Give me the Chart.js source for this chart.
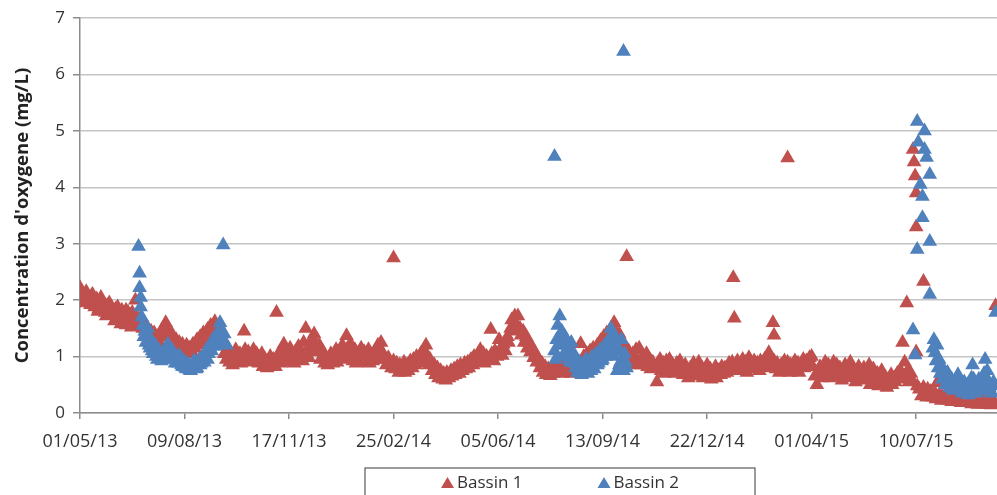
<!DOCTYPE html>
<html>
<head>
<meta charset="utf-8">
<title>Concentration d'oxygène</title>
<script src="https://cdn.jsdelivr.net/npm/chart.js@4.4.0/dist/chart.umd.min.js"></script>
<style>
    html, body { margin: 0; padding: 0; background: #fff; overflow: hidden; }
    #wrap { width: 1120px; height: 495px; }
</style>
</head>
<body>
<div id="wrap"><canvas id="oxyChart" width="1120" height="495"></canvas></div>
<script>
// day offsets are counted from 01/05/2013
const xTickLabels = ['01/05/13', '09/08/13', '17/11/13', '25/02/14', '05/06/14', '13/09/14', '22/12/14', '01/04/15', '10/07/15'];
const yTicks = [0, 1, 2, 3, 4, 5, 6, 7];

// Bassin 1: [day, mg/L]
const bassin1 = [
    [0, 2.22], [1, 1.98], [2, 2.1], [4, 2.05], [5, 1.95], [6, 2.15], [8, 2.0], [10, 1.92], [11, 2.08], [12, 2.1],
    [13, 1.95], [14, 1.88], [16, 2.02], [17, 1.8], [18, 1.85], [19, 1.95], [20, 2.05], [21, 1.82], [22, 1.92], [24, 1.78],
    [25, 1.72], [26, 1.9], [27, 1.8], [28, 1.95], [29, 1.75], [30, 1.88], [32, 1.74], [33, 1.63], [34, 1.84], [35, 1.72],
    [36, 1.88], [37, 1.8], [38, 1.7], [39, 1.58], [40, 1.82], [42, 1.68], [43, 1.76], [44, 1.82], [44, 1.56], [45, 1.66],
    [46, 1.78], [48, 1.64], [49, 1.52], [50, 1.74], [50, 1.78], [51, 1.62], [53, 2.0], [53, 1.72], [54, 1.6],
    [56, 1.68], [57, 1.55], [59, 1.62], [60, 1.5], [62, 1.58], [63, 1.45], [65, 1.5], [66, 1.38], [68, 1.45], [70, 1.35],
    [71, 1.42], [73, 1.3], [75, 1.38], [76, 1.25], [78, 1.35], [79, 1.45], [81, 1.55], [82, 1.6], [84, 1.45],
    [85, 1.35], [87, 1.28], [88, 1.4], [90, 1.22], [92, 1.3], [93, 1.15], [95, 1.25], [97, 1.12], [98, 1.22], [100, 1.1],
    [102, 1.2], [103, 1.05], [105, 1.15], [107, 1.08], [108, 1.22], [110, 1.15],
    [112, 1.3], [113, 1.2], [115, 1.35], [117, 1.25], [118, 1.42], [120, 1.32], [122, 1.48], [123, 1.38], [125, 1.55], [127, 1.45],
    [129, 1.62], [130, 1.5], [132, 1.4], [133, 1.55], [135, 1.3], [137, 1.2], [138, 1.05], [140, 0.95],
    [141, 1.12], [143, 0.9], [145, 1.05], [146, 0.85], [148, 1.0], [149, 1.12], [151, 0.92], [153, 1.05], [154, 0.88], [156, 1.0],
    [157, 1.45], [158, 1.12], [159, 0.95], [161, 1.08], [163, 0.9], [164, 1.02], [166, 1.12], [167, 0.92], [169, 1.05], [171, 0.88],
    [172, 0.98], [174, 1.05], [175, 0.82], [177, 0.95], [179, 0.8], [180, 0.92], [182, 1.0], [184, 0.85], [185, 0.95], [187, 0.82],
    [188, 1.78], [189, 0.95], [190, 1.05],
    [192, 0.88], [193, 1.1], [195, 1.22], [196, 0.95], [198, 1.08], [200, 0.9], [201, 1.15], [203, 1.0], [205, 0.88], [206, 1.08],
    [208, 0.95], [209, 1.18], [211, 1.05], [213, 0.92], [214, 1.25], [216, 1.5], [217, 1.1], [219, 0.98], [221, 1.28], [222, 1.15],
    [224, 1.4], [225, 1.25], [227, 1.08], [229, 1.2], [230, 0.95], [232, 1.1], [234, 0.88], [235, 1.0], [237, 0.85], [238, 0.95],
    [240, 1.05], [242, 0.88], [243, 1.0], [245, 1.12], [246, 0.9], [248, 1.08], [250, 0.95], [251, 1.2], [253, 1.05], [255, 1.37],
    [256, 1.15], [258, 0.98], [259, 1.22], [261, 0.92], [263, 1.12], [264, 0.88], [266, 1.05], [268, 0.95], [269, 1.15], [271, 0.9],
    [272, 1.08], [274, 0.95], [276, 1.12], [277, 0.88], [279, 1.02], [280, 0.92], [282, 1.08], [284, 0.95], [285, 1.2], [287, 1.1],
    [288, 1.25], [290, 1.05], [292, 0.95], [293, 0.85], [295, 0.98], [297, 0.88], [298, 0.8],
    [300, 2.75], [300, 0.92], [302, 0.78], [303, 0.88], [305, 0.72], [306, 0.85], [308, 0.78], [310, 0.9], [311, 0.72], [313, 0.85],
    [314, 0.75], [316, 0.92], [318, 0.8], [319, 0.95], [321, 0.85], [322, 1.0], [324, 0.88], [326, 1.05], [327, 0.92], [329, 1.12],
    [331, 1.2], [332, 1.0], [334, 0.85], [335, 0.95], [337, 0.75], [339, 0.85], [340, 0.68], [342, 0.8], [343, 0.62], [345, 0.75],
    [347, 0.6], [348, 0.7], [350, 0.58], [351, 0.72], [353, 0.62], [355, 0.75], [356, 0.65], [358, 0.78], [359, 0.68], [361, 0.82],
    [363, 0.7], [364, 0.85], [366, 0.75], [368, 0.88], [369, 0.78], [371, 0.9], [372, 0.8], [374, 0.95], [376, 0.85], [377, 1.0],
    [379, 0.9], [381, 1.05], [383, 1.12], [384, 0.92], [386, 1.05], [387, 0.88], [389, 1.0], [391, 0.95], [393, 1.48], [394, 1.05],
    [396, 0.92], [397, 1.1], [399, 1.0], [401, 1.3], [402, 1.12], [404, 1.02], [405, 1.22], [407, 1.1], [409, 1.35], [410, 1.25],
    [412, 1.5], [413, 1.65], [415, 1.45], [416, 1.72], [418, 1.55], [419, 1.72], [421, 1.5], [422, 1.38], [424, 1.45], [425, 1.25],
    [427, 1.35], [428, 1.15], [430, 1.25], [431, 1.08], [433, 1.15], [434, 0.98], [436, 1.05], [437, 0.9], [439, 0.95],
    [440, 0.8], [442, 0.88], [443, 0.72], [445, 0.82], [446, 0.68], [448, 0.78], [450, 0.66], [451, 0.8], [453, 0.7], [454, 0.85],
    [456, 0.72], [458, 0.88], [459, 0.75], [461, 0.9], [462, 0.7], [464, 0.82], [466, 0.92], [467, 0.75], [469, 0.85], [470, 0.7],
    [472, 0.88], [474, 0.78], [475, 0.95], [477, 0.82], [479, 1.23], [480, 0.9], [482, 1.0], [483, 0.85], [485, 1.05], [487, 0.92],
    [488, 1.1], [490, 0.95], [491, 1.15], [493, 1.02], [495, 1.2], [496, 1.05], [498, 1.28], [500, 1.12], [501, 1.35], [503, 1.2],
    [504, 1.42], [506, 1.28], [508, 1.5], [509, 1.35], [511, 1.6], [512, 1.45], [514, 1.3], [516, 1.4], [517, 1.18], [519, 1.25],
    [520, 1.1], [522, 1.18], [523, 2.77], [524, 1.0], [525, 1.1], [527, 0.9], [529, 1.05], [530, 0.85], [532, 1.12], [533, 0.92],
    [535, 1.15], [537, 0.85], [538, 1.0], [540, 0.9], [542, 1.05], [543, 0.82], [545, 0.95], [546, 0.78], [548, 0.9], [550, 0.8],
    [552, 0.55], [553, 0.88], [555, 0.95], [556, 0.75], [558, 0.88],
    [559, 0.7], [561, 0.92], [563, 0.8], [564, 0.95], [566, 0.72], [567, 0.85], [569, 0.7], [571, 0.88], [572, 0.75], [574, 0.92],
    [575, 0.8], [577, 0.68], [579, 0.85], [580, 0.72], [582, 0.62], [584, 0.8], [585, 0.7], [587, 0.88], [588, 0.65], [590, 0.78],
    [592, 0.9], [593, 0.68], [595, 0.8], [596, 0.62], [598, 0.75], [600, 0.85], [601, 0.65], [603, 0.78], [604, 0.6], [606, 0.72],
    [608, 0.82], [609, 0.62], [611, 0.75], [613, 0.68], [614, 0.82], [616, 0.7], [617, 0.8], [619, 0.72], [621, 0.88], [622, 0.78],
    [624, 0.9], [625, 2.4], [626, 1.68], [627, 0.8], [629, 0.92], [630, 0.75], [632, 0.85], [634, 0.95], [635, 0.8], [637, 0.9],
    [638, 0.72], [640, 0.98], [642, 0.85], [643, 0.78], [645, 0.92], [646, 0.8], [648, 0.88], [650, 0.75], [651, 0.92], [653, 0.82],
    [655, 0.95], [656, 0.8], [658, 1.0], [659, 1.07], [661, 0.85], [663, 1.6], [664, 1.38], [664, 0.92], [666, 0.78], [667, 0.88],
    [669, 0.72], [671, 0.85], [672, 0.78], [674, 0.92], [676, 0.8], [677, 4.52], [677, 0.9], [679, 0.72], [680, 0.85], [682, 0.78],
    [684, 0.92], [685, 0.8], [687, 0.88], [688, 0.72], [690, 0.85], [692, 0.95], [693, 0.8], [695, 0.92], [697, 0.85], [698, 0.98],
    [700, 1.0], [701, 0.82], [703, 0.65], [705, 0.5], [706, 0.72], [708, 0.82], [710, 0.62], [711, 0.8], [713, 0.9], [714, 0.7],
    [716, 0.85], [718, 0.62], [719, 0.78], [721, 0.9], [722, 0.72], [724, 0.85], [726, 0.65], [727, 0.8], [729, 0.58], [730, 0.75],
    [732, 0.85], [734, 0.68], [735, 0.8], [737, 0.9], [738, 0.62], [740, 0.75], [742, 0.55], [743, 0.72], [745, 0.82], [747, 0.58],
    [748, 0.7], [750, 0.8], [751, 0.6], [753, 0.72], [755, 0.85], [756, 0.5], [758, 0.68], [759, 0.78], [761, 0.55], [763, 0.7],
    [764, 0.48], [766, 0.65], [767, 0.75], [769, 0.52], [771, 0.62], [772, 0.45], [774, 0.6], [776, 0.68], [777, 0.5], [779, 0.62],
    [780, 0.55], [782, 0.7], [784, 0.6], [785, 0.75], [787, 1.25], [789, 0.9], [789, 0.65], [791, 1.95], [792, 0.75], [793, 0.55],
    [795, 0.7], [796, 0.58], [797, 4.67], [798, 4.45], [799, 4.2], [800, 3.9], [800, 3.3], [800, 1.08], [801, 0.48],
    [803, 0.42], [805, 0.3], [807, 2.33], [807, 0.45], [808, 0.35], [810, 0.28], [811, 0.42], [813, 0.3], [814, 0.38], [816, 0.28],
    [818, 0.35], [819, 0.25], [820, 0.53], [822, 0.32], [824, 0.22], [825, 0.3], [827, 0.25], [829, 0.33], [830, 0.22], [832, 0.3],
    [834, 0.2], [835, 0.28], [837, 0.22], [838, 0.3], [840, 0.2], [842, 0.27], [843, 0.18], [845, 0.25], [846, 0.2], [848, 0.28],
    [850, 0.18], [851, 0.24], [853, 0.16], [854, 0.22], [856, 0.18], [858, 0.25], [859, 0.15], [861, 0.2], [863, 0.16], [864, 0.22],
    [866, 0.15], [867, 0.2], [869, 0.15], [871, 0.18], [872, 0.14], [874, 0.18], [876, 1.9], [876, 0.15]
];

// Bassin 2: [day, mg/L]
const bassin2 = [
    [56, 2.95], [57, 2.48], [57, 2.22], [58, 2.05], [58, 1.88], [59, 1.7], [60, 1.55], [61, 1.35], [62, 1.45], [63, 1.25],
    [64, 1.38], [65, 1.5], [66, 1.2], [67, 1.15], [68, 1.3], [69, 1.1], [70, 1.05], [71, 1.18], [72, 1.2], [73, 1.0],
    [74, 0.95], [75, 1.08], [76, 1.1], [77, 0.98], [78, 0.92], [80, 1.05], [81, 1.12], [82, 1.15], [83, 1.0], [84, 1.22],
    [85, 1.1], [86, 1.05], [87, 0.95], [88, 1.12], [89, 1.0], [90, 0.95], [91, 0.88], [92, 1.0], [93, 0.9], [94, 0.88],
    [95, 1.02], [96, 0.95], [97, 0.85], [98, 0.82], [99, 0.92], [100, 0.9], [101, 0.8], [102, 0.78], [103, 0.88], [104, 0.85],
    [105, 0.76], [106, 0.75], [107, 0.85], [108, 0.82], [109, 0.92], [110, 0.9], [111, 0.78], [112, 0.8], [113, 0.9], [114, 0.95],
    [115, 0.85], [116, 0.88], [117, 0.98], [118, 1.0], [119, 0.9], [120, 1.05], [121, 1.12], [122, 0.95], [123, 1.05], [124, 1.15],
    [125, 1.2], [126, 1.1], [127, 1.3], [128, 1.25], [129, 1.18], [130, 1.3], [131, 1.4], [132, 1.2], [133, 1.35], [134, 1.6],
    [135, 1.45], [136, 1.3], [137, 2.98], [138, 1.4], [139, 1.25], [140, 1.2],
    [454, 4.55], [454, 1.1], [455, 0.95], [456, 1.3], [457, 1.55], [458, 1.2], [459, 1.72], [460, 1.3], [461, 1.45], [462, 1.2],
    [463, 1.05], [464, 1.35], [465, 1.0], [466, 1.22], [467, 1.15], [468, 0.95], [469, 0.9], [470, 1.25], [471, 1.1], [472, 1.0],
    [473, 0.88], [474, 0.8], [475, 0.95], [476, 0.72], [477, 0.82], [478, 0.9], [479, 0.7], [480, 0.68], [481, 0.85], [482, 0.8],
    [483, 0.72], [484, 0.95], [485, 0.82], [486, 0.7], [487, 0.9], [488, 0.85], [489, 0.75], [490, 1.0], [491, 0.88], [492, 0.78],
    [493, 0.95], [494, 1.05], [495, 0.85], [496, 0.88], [497, 1.0], [498, 1.12], [499, 0.92], [500, 0.95], [501, 1.1], [502, 1.2],
    [503, 1.0], [504, 1.05], [505, 1.25], [506, 1.3], [507, 1.12], [508, 1.5], [509, 1.25], [510, 1.4], [511, 1.0], [512, 1.35],
    [513, 1.1], [514, 0.75], [515, 1.15], [516, 0.85], [517, 0.9], [518, 1.3], [519, 0.95], [520, 6.41], [520, 0.75], [521, 1.05],
    [522, 0.9], [523, 0.8],
    [797, 1.47], [799, 1.03], [801, 5.17], [801, 2.9], [802, 4.8], [804, 4.05], [806, 3.84], [806, 3.46], [808, 5.0], [808, 4.67],
    [810, 4.53], [813, 4.23], [813, 3.04], [813, 2.1], [816, 1.15], [817, 1.3], [818, 1.07], [819, 0.92], [820, 1.2], [821, 0.8],
    [822, 0.95], [823, 0.7], [824, 0.8], [825, 0.6], [826, 0.62], [827, 0.75], [828, 0.5], [829, 0.65], [830, 0.72], [831, 0.55],
    [832, 0.45], [833, 0.58], [834, 0.6], [835, 0.42], [836, 0.4], [837, 0.55], [838, 0.52], [839, 0.62], [840, 0.68], [841, 0.5],
    [842, 0.45], [843, 0.55], [844, 0.35], [845, 0.48], [846, 0.55], [847, 0.42], [848, 0.4], [849, 0.5], [850, 0.32], [851, 0.45],
    [852, 0.5], [853, 0.62], [854, 0.85], [855, 0.6], [856, 0.45], [857, 0.52], [858, 0.35], [859, 0.45], [860, 0.6], [861, 0.5],
    [862, 0.4], [863, 0.55], [864, 0.5], [865, 0.7], [866, 0.95], [867, 0.6], [868, 0.75], [869, 0.55], [870, 0.45], [871, 0.4],
    [872, 0.35], [873, 0.48], [874, 0.55], [876, 1.78]
];

const RED = '#C0504D';
const BLUE = '#4F81BD';
const FONT = '"Open Sans", "Noto Sans", sans-serif';
const TEXT = '#333333';
const AXIS = '#8c8c8c';

const toPoints = rows => rows.map(([d, v]) => ({ x: d, y: v }));

// legend drawn below the axis, inside a thin frame
const boxedLegend = {
    id: 'boxedLegend',
    afterDraw(chart) {
        const ctx = chart.ctx;
        const cx = chart.width / 2;
        const top = chart.height - 27;
        const baseY = top + 20;
        ctx.save();
        ctx.strokeStyle = '#595959';
        ctx.lineWidth = 1.2;
        ctx.strokeRect(cx - 195, top, 390, 60);

        ctx.font = '17px ' + FONT;
        ctx.textBaseline = 'alphabetic';
        const items = chart.data.datasets.map(ds => ({
            text: ds.label,
            color: ds.backgroundColor,
            w: ctx.measureText(ds.label).width
        }));
        const markerW = 13, gapText = 3, gapItem = 75;
        const total = items.reduce((s, it) => s + markerW + gapText + it.w, 0) + gapItem * (items.length - 1);
        let x = cx - total / 2;
        items.forEach(it => {
            ctx.fillStyle = it.color;
            ctx.beginPath();
            ctx.moveTo(x + markerW / 2, baseY - 11);
            ctx.lineTo(x + markerW, baseY);
            ctx.lineTo(x, baseY);
            ctx.closePath();
            ctx.fill();
            ctx.fillStyle = TEXT;
            ctx.fillText(it.text, x + markerW + gapText, baseY);
            x += markerW + gapText + it.w + gapItem;
        });
        ctx.restore();
    }
};

new Chart(document.getElementById('oxyChart'), {
    type: 'scatter',
    data: {
        datasets: [
            {
                label: 'Bassin 1',
                data: toPoints(bassin1),
                backgroundColor: RED,
                borderColor: RED,
                borderWidth: 0,
                pointStyle: 'triangle',
                pointRadius: 8.5,
                order: 1
            },
            {
                label: 'Bassin 2',
                data: toPoints(bassin2),
                backgroundColor: BLUE,
                borderColor: BLUE,
                borderWidth: 0,
                pointStyle: 'triangle',
                pointRadius: 8.5,
                order: 0
            }
        ]
    },
    options: {
        responsive: false,
        animation: false,
        layout: { padding: { top: 10, right: 115, bottom: 42, left: 0 } },
        plugins: {
            legend: { display: false },
            tooltip: { enabled: false }
        },
        scales: {
            x: {
                type: 'linear',
                min: 0,
                max: 885,
                ticks: {
                    stepSize: 100,
                    autoSkip: false,
                    maxRotation: 0,
                    padding: 12,
                    color: TEXT,
                    font: { family: FONT, size: 18 },
                    callback: v => xTickLabels[v / 100]
                },
                grid: { drawOnChartArea: false, drawTicks: true, tickLength: 6, color: AXIS, lineWidth: 1.5 },
                border: { color: AXIS, width: 1.5 },
                afterFit: s => { s.height = 40; }
            },
            y: {
                min: yTicks[0],
                max: yTicks[yTicks.length - 1],
                ticks: {
                    stepSize: 1,
                    padding: 8,
                    color: TEXT,
                    font: { family: FONT, size: 17 }
                },
                grid: { color: '#c4c4c4', lineWidth: 1.5, tickLength: 7, tickColor: AXIS },
                border: { color: AXIS, width: 1.5 },
                title: {
                    display: true,
                    text: "Concentration d'oxygene (mg/L)",
                    color: '#222222',
                    font: { family: FONT, size: 18.5, weight: 'bold' },
                    padding: { top: 12, bottom: 0 }
                },
                afterFit: s => { s.width = 80; }
            }
        }
    },
    plugins: [boxedLegend]
});
</script>
</body>
</html>
